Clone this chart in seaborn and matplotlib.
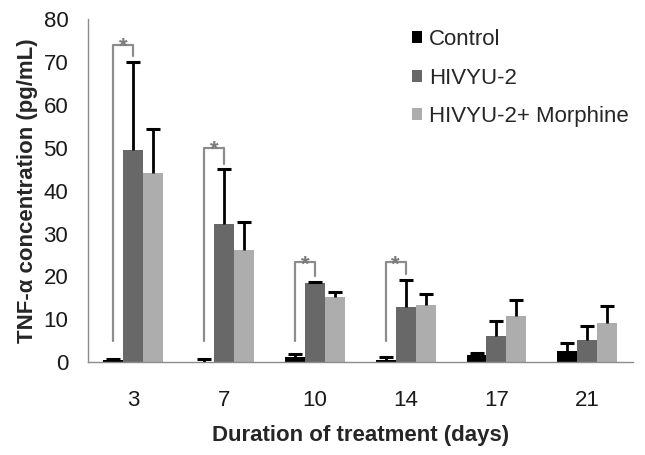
import numpy as np
import pandas as pd
import matplotlib
matplotlib.use('Agg')
import matplotlib.pyplot as plt
import seaborn as sns

# data
days = ['3', '7', '10', '14', '17', '21']
groups = ['Control', 'HIVYU-2', 'HIVYU-2+ Morphine']
control = [0.5, 0.1, 1.2, 0.4, 1.6, 2.6]
control_err = [0.2, 0.6, 0.7, 0.7, 0.6, 1.9]
hivyu = [49.4, 32.2, 18.4, 12.8, 6.1, 5.1]
hivyu_err = [20.5, 12.8, 0.3, 6.3, 3.6, 3.4]
morphine = [44.1, 26.1, 15.1, 13.4, 10.8, 9.2]
morphine_err = [10.2, 6.5, 1.2, 2.6, 3.6, 3.9]
colors = ['#000000', '#686868', '#adadad']

# significance brackets: day index, top height, right-leg bottom, left-leg bottom
sig_days = [0, 1, 2, 3]
sig_top = [74.0, 50.0, 23.3, 23.3]
sig_right = [71.5, 46.2, 20.2, 20.5]
sig_left = [5.0, 5.0, 5.0, 5.0]

df = pd.DataFrame({
    'day': days * 3,
    'group': np.repeat(groups, len(days)),
    'value': control + hivyu + morphine,
})
errs = [control_err, hivyu_err, morphine_err]

sns.set_style('white')
plt.rcParams['font.family'] = ['Liberation Sans', 'DejaVu Sans']

fig, ax = plt.subplots(figsize=(6.45, 4.55), dpi=100)
fig.subplots_adjust(left=0.136, right=0.981, top=0.958, bottom=0.204)

sns.barplot(data=df, x='day', y='value', hue='group', palette=colors,
            width=0.66, errorbar=None, saturation=1, linewidth=0, ax=ax)

# one-sided error bars (upper only)
for cont, err in zip(ax.containers, errs):
    xs = np.array([b.get_x() + b.get_width() / 2 for b in cont])
    hs = np.array([b.get_height() for b in cont])
    tops = hs + np.array(err)
    ax.vlines(xs, hs, tops, color='black', lw=2, zorder=3)
    ax.plot(xs, tops, ls='none', marker='_', ms=10, mew=2.2, color='black', zorder=3)

# brackets with stars
ctrl_bars = ax.containers[0]
hiv_bars = ax.containers[1]
for d, top, rb, lb in zip(sig_days, sig_top, sig_right, sig_left):
    x1 = ctrl_bars[d].get_x() + ctrl_bars[d].get_width() / 2
    x2 = hiv_bars[d].get_x() + hiv_bars[d].get_width() / 2
    ax.plot([x1, x1, x2, x2], [lb, top, top, rb], color='#8c8c8c', lw=1.6, zorder=4)
    ax.text((x1 + x2) / 2, top - 0.6, '*', color='#7a7a7a', fontsize=16,
            ha='center', va='center', fontweight='bold', zorder=5)

ax.set_xlim(-0.5, 5.5)
ax.set_ylim(0, 80)
ax.set_yticks(range(0, 81, 10))
ax.set_xticks(range(len(days)))
ax.set_xticklabels(days)
ax.set_xticks(np.arange(-0.5, 5.6, 1), minor=True)
ax.tick_params(axis='x', which='major', length=0, pad=20, labelsize=16, labelcolor='#1a1a1a')
ax.tick_params(axis='x', which='minor', length=5, color='#8c8c8c', width=1)
ax.tick_params(axis='y', length=6, color='#8c8c8c', width=1, labelsize=16, labelcolor='#1a1a1a', pad=8)

sns.despine(ax=ax)
for s in ['left', 'bottom']:
    ax.spines[s].set_color('#8c8c8c')
    ax.spines[s].set_linewidth(1)

ax.set_xlabel('Duration of treatment (days)', fontsize=16, fontweight='bold', labelpad=10)
ax.set_ylabel('TNF-α concentration (pg/mL)', fontsize=16, fontweight='bold', labelpad=4)

ax.legend(loc='upper right', bbox_to_anchor=(1.03, 1.03), frameon=False, fontsize=16,
          handlelength=0.45, handleheight=0.45, handletextpad=0.35, labelspacing=0.8)

fig.savefig('out.png', dpi=100)
